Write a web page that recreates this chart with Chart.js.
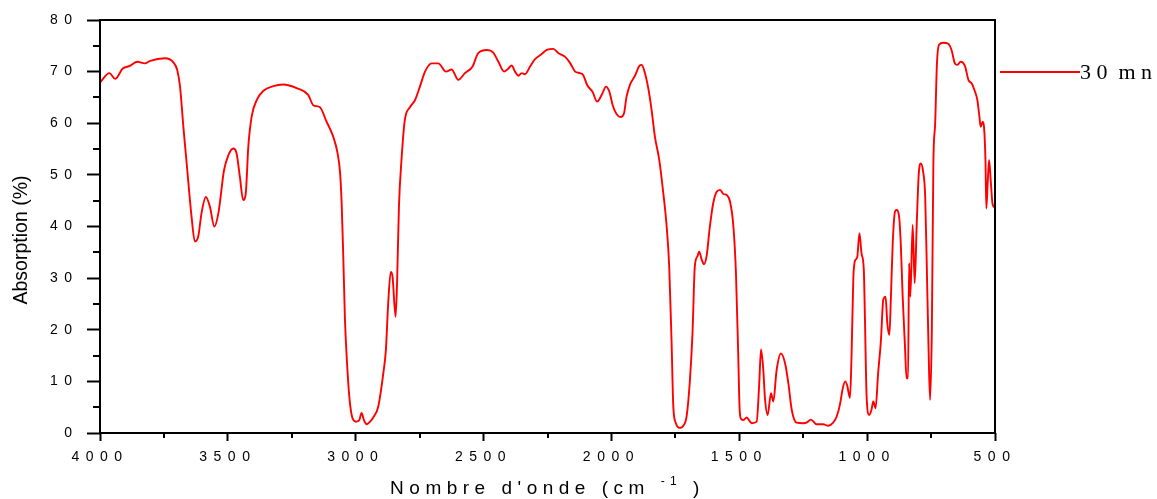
<!DOCTYPE html>
<html>
<head>
<meta charset="utf-8">
<script src="https://cdn.jsdelivr.net/npm/chart.js@4/dist/chart.umd.min.js"></script>
<style>
  body { margin: 0; background: #fff; }
</style>
</head>
<body>
<canvas id="ir-chart" width="1157" height="499"></canvas>
<script>
// spectre IR (nombre d'onde en cm-1, absorption en %)
const wavenumbers = [
  4000, 3963, 3941, 3911, 3883, 3854, 3824, 3804, 3746, 3713, 3698, 3687, 3674, 3661, 3642, 3629,
  3616, 3603, 3586, 3570, 3553, 3537, 3515, 3498, 3479, 3466, 3453, 3440, 3430, 3420, 3407, 3387,
  3361, 3322, 3283, 3231, 3186, 3166, 3140, 3114, 3088, 3071, 3061, 3055, 3049, 3042, 3036, 3025,
  3012, 2997, 2986, 2977, 2968, 2957, 2944, 2929, 2912, 2892, 2882, 2873, 2863, 2856, 2844, 2838,
  2831, 2821, 2808, 2788, 2768, 2749, 2729, 2703, 2677, 2647, 2625, 2599, 2573, 2543, 2521, 2486,
  2462, 2442, 2420, 2403, 2390, 2377, 2364, 2351, 2338, 2318, 2299, 2273, 2253, 2227, 2208, 2182,
  2162, 2142, 2123, 2110, 2095, 2074, 2056, 2038, 2021, 2008, 1995, 1980, 1964, 1951, 1941, 1928,
  1908, 1891, 1882, 1873, 1856, 1843, 1830, 1813, 1800, 1784, 1774, 1765, 1758, 1748, 1732, 1719,
  1706, 1693, 1683, 1674, 1664, 1657, 1647, 1638, 1628, 1615, 1602, 1589, 1575, 1562, 1549, 1536,
  1523, 1513, 1504, 1499, 1494, 1485, 1471, 1458, 1451, 1432, 1422, 1415, 1406, 1400, 1389, 1376,
  1367, 1354, 1337, 1321, 1308, 1295, 1276, 1250, 1237, 1220, 1198, 1172, 1152, 1133, 1119, 1106,
  1096, 1086, 1078, 1067, 1061, 1054, 1048, 1039, 1030, 1022, 1013, 1009, 1002, 992, 983, 976,
  967, 957, 946, 937, 928, 921, 913, 907, 900, 891, 885, 875, 868, 861, 852, 846,
  840, 836, 831, 822, 814, 806, 798, 790, 782, 773, 767, 760, 754, 747, 741, 734,
  727, 719, 702, 683, 670, 657, 648, 634, 617, 604, 591, 578, 569, 561, 556, 548,
  543, 537, 534, 528, 523, 516, 510, 503, 500
];
const absorption30 = [
  67.9, 69.7, 68.6, 70.6, 71.1, 71.9, 71.6, 72.1, 72.6, 71.8, 70.3, 67.1, 59.3, 52.2, 41.9, 37.1,
  38.0, 42.6, 45.7, 43.8, 40.0, 42.6, 50.9, 53.8, 55.1, 54.2, 49.6, 45.1, 46.4, 55.5, 61.3, 64.5,
  66.3, 67.2, 67.5, 66.8, 65.5, 63.5, 63.1, 60.3, 57.4, 54.2, 50.3, 44.5, 34.8, 21.9, 15.4, 7.0,
  2.8, 2.2, 2.5, 3.9, 2.5, 1.7, 2.2, 3.2, 5.1, 11.6, 16.1, 25.1, 31.2, 30.3, 22.5, 29.6,
  43.8, 52.9, 60.6, 63.1, 64.5, 67.1, 70.0, 71.6, 71.6, 70.0, 70.4, 68.4, 69.7, 71.0, 73.6, 74.2,
  73.7, 71.9, 70.0, 70.6, 71.2, 70.0, 69.2, 69.7, 69.5, 71.0, 72.4, 73.4, 74.2, 74.4, 73.6, 72.9,
  71.7, 70.0, 69.7, 69.3, 67.4, 66.1, 64.2, 65.5, 67.1, 66.1, 63.5, 61.8, 61.2, 61.9, 65.1, 67.4,
  69.2, 71.1, 71.3, 70.4, 66.8, 62.6, 57.4, 52.9, 47.7, 40.0, 32.2, 18.0, 5.1, 1.9, 1.0, 1.4,
  3.2, 10.3, 19.3, 32.2, 34.2, 35.1, 33.6, 32.7, 34.2, 40.0, 44.5, 46.7, 47.1, 46.3, 46.1, 44.8,
  40.0, 30.9, 14.8, 5.0, 2.8, 2.5, 3.0, 2.2, 1.9, 2.2, 9.6, 16.2, 12.2, 7.0, 3.5, 7.7,
  6.1, 12.2, 15.4, 13.5, 9.6, 4.5, 2.0, 1.9, 2.0, 2.6, 1.7, 1.7, 1.4, 2.0, 3.2, 5.6,
  8.5, 10.0, 9.2, 6.8, 15.0, 30.0, 33.3, 34.0, 38.7, 34.8, 31.6, 23.2, 7.0, 3.5, 4.5, 6.1,
  4.8, 11.6, 18.0, 25.8, 26.4, 21.2, 19.0, 26.4, 36.7, 42.9, 43.2, 41.9, 36.1, 26.4, 16.7, 10.6,
  10.6, 32.9, 26.4, 40.3, 29.0, 40.6, 50.3, 52.2, 50.9, 45.8, 32.9, 16.7, 6.4, 20.0, 52.2, 60.0,
  71.6, 75.2, 75.6, 75.4, 74.2, 71.6, 71.3, 71.9, 71.0, 68.4, 67.7, 66.1, 64.5, 61.3, 59.3, 60.3,
  59.3, 52.2, 43.5, 49.0, 52.9, 48.4, 44.5, 43.8, 44.0
];
const seriesLabel = '3 0  m n';
const xMinorTicks = [3750, 3250, 2750, 2250, 1750, 1250, 750];
const yMinorTicks = [5, 15, 25, 35, 45, 55, 65, 75];

const sans = "'Liberation Sans', Arial, sans-serif";
const serif = "'Liberation Serif', 'Times New Roman', serif";

const points = wavenumbers.map((w, i) => ({ x: w, y: absorption30[i] }));

// cadre, petites graduations, titres et légende
const decor = {
  id: 'decor',
  beforeDraw(chart) {
    chart.ctx.letterSpacing = '6.5px';
  },
  afterDraw(chart) {
    const ctx = chart.ctx;
    const a = chart.chartArea;
    const xs = chart.scales.x;
    const ys = chart.scales.y;
    ctx.save();
    ctx.letterSpacing = '0px';
    ctx.strokeStyle = '#000';
    ctx.lineWidth = 2;
    ctx.strokeRect(a.left, a.top, a.right - a.left, a.bottom - a.top);

    ctx.beginPath();
    xMinorTicks.forEach(v => {
      const px = Math.round(xs.getPixelForValue(v));
      ctx.moveTo(px, a.bottom);
      ctx.lineTo(px, a.bottom + 5);
    });
    yMinorTicks.forEach(v => {
      const py = Math.round(ys.getPixelForValue(v));
      ctx.moveTo(a.left, py);
      ctx.lineTo(a.left - 7, py);
    });
    ctx.stroke();

    // titre axe y
    ctx.fillStyle = '#000';
    ctx.save();
    ctx.translate(22, 240);
    ctx.rotate(-Math.PI / 2);
    ctx.font = '19.5px ' + sans;
    ctx.textAlign = 'center';
    ctx.textBaseline = 'middle';
    ctx.fillText('Absorption (%)', 0, 0);
    ctx.restore();

    // titre axe x avec exposant
    ctx.letterSpacing = '5.5px';
    ctx.textBaseline = 'alphabetic';
    ctx.textAlign = 'left';
    const main = "Nombre d'onde (cm ";
    const sup = '-1';
    const end = ' )';
    ctx.font = '19px ' + sans;
    const w1 = ctx.measureText(main).width;
    const w3 = ctx.measureText(end).width;
    ctx.font = '12px ' + sans;
    const w2 = ctx.measureText(sup).width;
    let x0 = (a.left + a.right) / 2 - (w1 + w2 + w3) / 2;
    const base = 494;
    ctx.font = '19px ' + sans;
    ctx.fillText(main, x0, base);
    ctx.font = '12px ' + sans;
    ctx.fillText(sup, x0 + w1, base - 9);
    ctx.font = '19px ' + sans;
    ctx.fillText(end, x0 + w1 + w2, base);

    // légende
    ctx.letterSpacing = '0px';
    ctx.strokeStyle = '#ff0000';
    ctx.lineWidth = 2;
    ctx.beginPath();
    ctx.moveTo(1000, 72);
    ctx.lineTo(1080, 72);
    ctx.stroke();
    ctx.font = '22px ' + serif;
    ctx.fillStyle = '#000';
    ctx.fillText(seriesLabel, 1080, 79);
    ctx.restore();
  }
};

const ctx = document.getElementById('ir-chart').getContext('2d');
new Chart(ctx, {
  type: 'line',
  data: {
    datasets: [{
      label: seriesLabel,
      data: points,
      borderColor: '#ff0000',
      borderWidth: 1.9,
      pointRadius: 0,
      fill: false,
      cubicInterpolationMode: 'monotone',
    }],
  },
  options: {
    responsive: false,
    animation: false,
    layout: { padding: { top: 20, right: 162, left: 0, bottom: 0 } },
    plugins: { legend: { display: false }, tooltip: { enabled: false } },
    scales: {
      x: {
        type: 'linear',
        reverse: true,
        min: 500,
        max: 4000,
        border: { display: false },
        grid: { drawOnChartArea: false, tickLength: 8, tickWidth: 2, tickColor: '#000' },
        ticks: {
          stepSize: 500,
          autoSkip: false,
          maxRotation: 0,
          padding: 8,
          color: '#000',
          font: { family: sans, size: 14 },
          callback: (v) => String(v),
        },
        afterFit: (s) => { s.height = 66; },
      },
      y: {
        min: 0,
        max: 80,
        border: { display: false },
        grid: { drawOnChartArea: false, tickLength: 13, tickWidth: 2, tickColor: '#000' },
        ticks: {
          stepSize: 10,
          padding: 8.5,
          color: '#000',
          font: { family: sans, size: 14 },
          callback: (v) => String(v),
        },
        afterFit: (s) => { s.width = 100; },
      },
    },
  },
  plugins: [decor],
});
</script>
</body>
</html>
